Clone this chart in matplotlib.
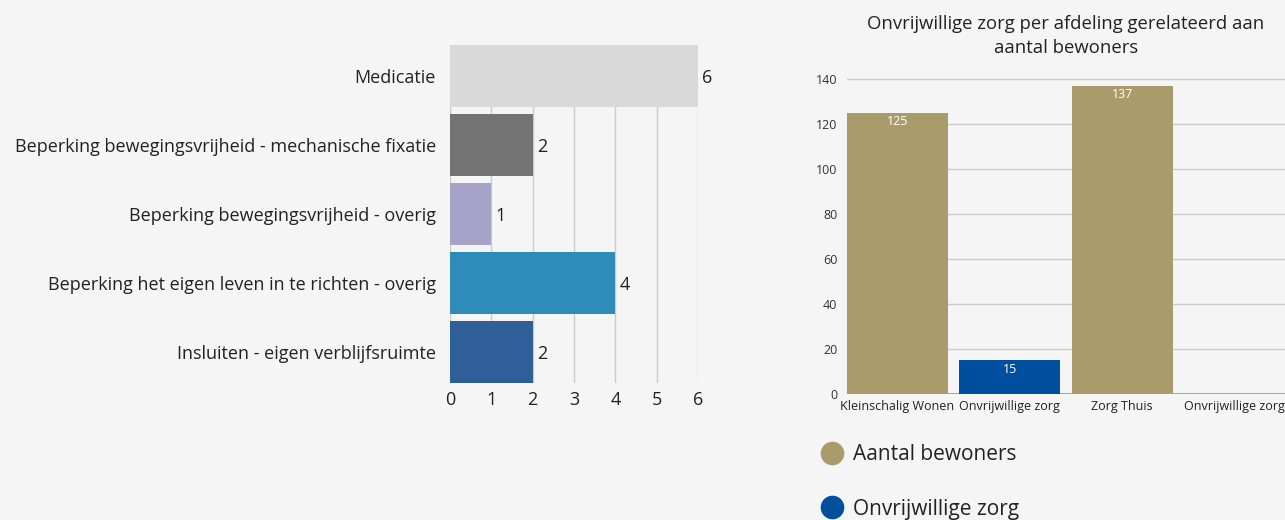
import numpy as np
import matplotlib
matplotlib.use('Agg')
import matplotlib.pyplot as plt
from matplotlib.lines import Line2D

# Gegevens linker grafiek
categorieen = ['Medicatie',
               'Beperking bewegingsvrijheid - mechanische fixatie',
               'Beperking bewegingsvrijheid - overig',
               'Beperking het eigen leven in te richten - overig',
               'Insluiten - eigen verblijfsruimte']
aantallen = [6, 2, 1, 4, 2]
kleuren_links = ['#d9d9d9', '#737373', '#a7a3c8', '#2e8bba', '#2e5f98']

# Gegevens rechter grafiek
afdelingen = ['Kleinschalig Wonen', 'Onvrijwillige zorg', 'Zorg Thuis', 'Onvrijwillige zorg']
waarden = [125, 15, 137, 0]
reeks = ['Aantal bewoners', 'Onvrijwillige zorg', 'Aantal bewoners', 'Onvrijwillige zorg']
reeks_kleuren = {'Aantal bewoners': '#aa9b6a', 'Onvrijwillige zorg': '#004f9f'}

achtergrond = '#f5f5f5'
lettertype = 'Open Sans'
fig = plt.figure(figsize=(12.85, 5.2), dpi=100, facecolor=achtergrond)

# ---- linker grafiek ----
ax1 = fig.add_axes([450 / 1285, 137 / 520, 248 / 1285, 338 / 520])
ax1.set_facecolor(achtergrond)
y = np.arange(len(categorieen))
ax1.barh(y, aantallen, height=0.9, color=kleuren_links, zorder=3)
for yi, v in zip(y, aantallen):
    ax1.text(v + 0.1, yi + 0.03, str(v), va='center', ha='left', fontsize=13,
             family=lettertype, color='#222222')
ax1.set_xlim(0, 6)
ax1.set_ylim(len(categorieen) - 0.55, -0.45)
ax1.set_yticks(y)
ax1.set_yticklabels(categorieen, fontsize=13, family=lettertype, color='#222222')
ax1.set_xticks(range(0, 7))
ax1.set_xticklabels([str(i) for i in range(0, 7)], fontsize=13, family=lettertype, color='#222222')
ax1.tick_params(axis='both', length=0)
ax1.tick_params(axis='y', pad=10)
ax1.tick_params(axis='x', pad=6)
ax1.grid(axis='x', color='#cccccc', linewidth=1, zorder=0)
for s in ax1.spines.values():
    s.set_visible(False)

# ---- rechter grafiek ----
ax2 = fig.add_axes([847 / 1285, 125.7 / 520, 438 / 1285, 316.6 / 520])
ax2.set_facecolor(achtergrond)
x = np.arange(len(afdelingen))
ax2.bar(x, waarden, width=0.9, color=[reeks_kleuren[r] for r in reeks], zorder=3)
for xi, v in zip(x, waarden):
    if v > 0:
        ax2.text(xi, v - 1.2, str(v), ha='center', va='top', fontsize=9,
                 family=lettertype, color='white', zorder=4)
ax2.set_xlim(-0.45, 3.45)
ax2.set_ylim(0, 140.5)
ax2.set_yticks(range(0, 141, 20))
ax2.set_yticklabels([str(t) for t in range(0, 141, 20)], fontsize=9,
                    family=lettertype, color='#333333')
ax2.set_xticks(x)
ax2.set_xticklabels(afdelingen, fontsize=9, family=lettertype, color='#222222')
ax2.tick_params(axis='both', length=0)
ax2.tick_params(axis='y', pad=7)
ax2.tick_params(axis='x', pad=4)
ax2.grid(axis='y', color='#cccccc', linewidth=1, zorder=0)
for s in ax2.spines.values():
    s.set_visible(False)
ax2.axhline(0, color='#999999', linewidth=1.2, zorder=2)

fig.text(1066 / 1285, 1 - 36 / 520,
         'Onvrijwillige zorg per afdeling gerelateerd aan\naantal bewoners',
         ha='center', va='center', fontsize=13.3, family=lettertype,
         color='#222222', linespacing=1.45)

# legenda
handles = [Line2D([], [], marker='o', linestyle='', markersize=16,
                  markerfacecolor=reeks_kleuren[k], markeredgecolor=reeks_kleuren[k])
           for k in ['Aantal bewoners', 'Onvrijwillige zorg']]
leg = fig.legend(handles, ['Aantal bewoners', 'Onvrijwillige zorg'],
                 loc='upper left', bbox_to_anchor=(820 / 1285, 1 - 444 / 520),
                 frameon=False, prop={'family': lettertype, 'size': 15},
                 labelspacing=1.62, handletextpad=0.4, handlelength=1.2,
                 borderaxespad=0, borderpad=0)
for t in leg.get_texts():
    t.set_color('#222222')

plt.savefig('out.png', dpi=100, facecolor=achtergrond)
